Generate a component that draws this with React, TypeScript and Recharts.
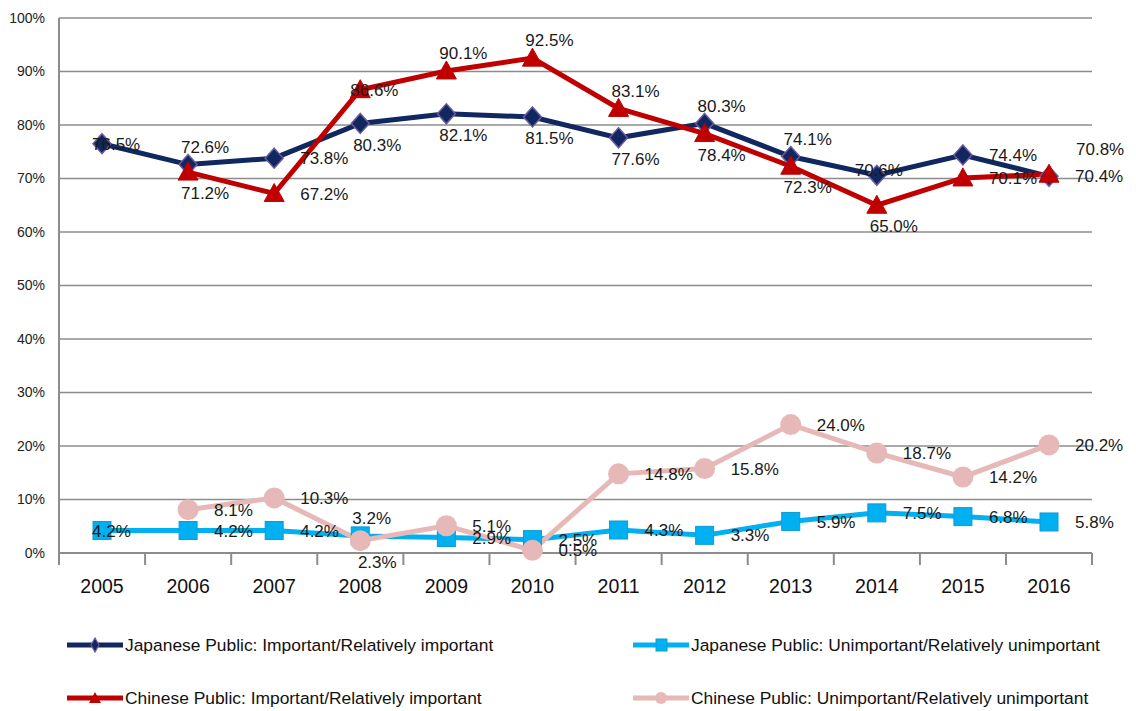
import React from 'react';
import { LineChart, Line, XAxis, YAxis, CartesianGrid, Legend, LabelList } from 'recharts';

const years = ['2005', '2006', '2007', '2008', '2009', '2010', '2011', '2012', '2013', '2014', '2015', '2016'];
const jpImportant = [76.5, 72.6, 73.8, 80.3, 82.1, 81.5, 77.6, 80.3, 74.1, 70.6, 74.4, 70.4];
const cnImportant = [null, 71.2, 67.2, 86.6, 90.1, 92.5, 83.1, 78.4, 72.3, 65.0, 70.1, 70.8];
const jpUnimportant = [4.2, 4.2, 4.2, 3.2, 2.9, 2.5, 4.3, 3.3, 5.9, 7.5, 6.8, 5.8];
const cnUnimportant = [null, 8.1, 10.3, 2.3, 5.1, 0.5, 14.8, 15.8, 24.0, 18.7, 14.2, 20.2];
const yTicks = [0, 10, 20, 30, 40, 50, 60, 70, 80, 90, 100];

const seriesNames = {
  jpImp: 'Japanese Public: Important/Relatively important',
  jpUn: 'Japanese Public: Unimportant/Relatively unimportant',
  cnImp: 'Chinese Public: Important/Relatively important',
  cnUn: 'Chinese Public: Unimportant/Relatively unimportant',
};

// where each data label sits relative to its point
const jpImpLabelPos = ['c', 't', 'r', 'b', 'b', 'b', 'b', 't', 't', 'm', 'r', 'r'];
const cnImpLabelPos = ['', 'b', 'r', 'c', 't', 't', 't', 'b', 'b', 'b', 'r', 'tr'];
const jpUnLabelPos = ['c', 'r', 'r', 'tc', 'r', 'r', 'r', 'r', 'r', 'r', 'r', 'r'];
const cnUnLabelPos = ['', 'r', 'r', 'b', 'r', 'r', 'r', 'r', 'r', 'r', 'r', 'r'];

const data = years.map((year, i) => ({
  year,
  jpImp: jpImportant[i],
  cnImp: cnImportant[i],
  jpUn: jpUnimportant[i],
  cnUn: cnUnimportant[i],
}));

const FONT = '"Liberation Sans", Arial, sans-serif';
const NAVY = '#10285f';
const RED = '#c00000';
const CYAN = '#00b0f0';
const PINK = '#e6b9b8';
const GRID = '#8c8c8c';
const BAND = 86;

const makeLabel = (pos: string[]) => (props: any) => {
  const { x, y, value, index } = props;
  if (value == null || x == null || y == null) return null;
  const p = pos[index] || 'r';
  let tx = x;
  let ty = y;
  let anchor: 'start' | 'middle' | 'end' = 'middle';
  switch (p) {
    case 'r':
      tx = x + 26; anchor = 'start'; break;
    case 'tr':
      tx = x + 27; ty = y - 25; anchor = 'start'; break;
    case 't':
      tx = x + 17; ty = y - 18; break;
    case 'b':
      tx = x + 17; ty = y + 21; break;
    case 'c':
      tx = x - 10; anchor = 'start'; break;
    case 'tc':
      tx = x - 8; ty = y - 18; anchor = 'start'; break;
    case 'm':
      tx = x + 2; ty = y - 5; break;
  }
  return (
    <text x={tx} y={ty} dy="0.36em" textAnchor={anchor} fontSize={17} fontFamily={FONT} fill="#1a1a1a">
      {Number(value).toFixed(1)}%
    </text>
  );
};

const Diamond = (props: any) => {
  const { cx, cy, index } = props;
  if (cx == null || cy == null) return <g key={`dm-${index}`} />;
  return (
    <polygon
      key={`dm-${index}`}
      points={`${cx},${cy - 10} ${cx + 9},${cy} ${cx},${cy + 10} ${cx - 9},${cy}`}
      fill={NAVY}
      stroke="#6b5b9e"
      strokeWidth={1.5}
    />
  );
};

const Triangle = (props: any) => {
  const { cx, cy, index } = props;
  if (cx == null || cy == null) return <g key={`tr-${index}`} />;
  return (
    <polygon
      key={`tr-${index}`}
      points={`${cx},${cy - 10} ${cx + 10},${cy + 8} ${cx - 10},${cy + 8}`}
      fill={RED}
      stroke={RED}
      strokeWidth={1}
    />
  );
};

const Square = (props: any) => {
  const { cx, cy, index } = props;
  if (cx == null || cy == null) return <g key={`sq-${index}`} />;
  return (
    <rect key={`sq-${index}`} x={cx - 9} y={cy - 9} width={18} height={18} fill={CYAN} stroke="#0d9bd6" strokeWidth={1} />
  );
};

const Circle = (props: any) => {
  const { cx, cy, index } = props;
  if (cx == null || cy == null) return <g key={`ci-${index}`} />;
  return <circle key={`ci-${index}`} cx={cx} cy={cy} r={10.5} fill={PINK} />;
};

const XTick = (props: any) => {
  const { x, y, payload, index } = props;
  const last = index === years.length - 1;
  return (
    <g>
      <line x1={x - BAND / 2} x2={x - BAND / 2} y1={y} y2={y + 12} stroke={GRID} strokeWidth={2} />
      {last && <line x1={x + BAND / 2} x2={x + BAND / 2} y1={y} y2={y + 12} stroke={GRID} strokeWidth={2} />}
      <text x={x} y={y + 40} textAnchor="middle" fontSize={19.5} fontFamily={FONT} fill="#111">
        {payload.value}
      </text>
    </g>
  );
};

const LegendIcon = ({ color, marker }: { color: string; marker: string }) => (
  <svg width={56} height={20} style={{ display: 'block' }}>
    <line x1={0} x2={56} y1={10} y2={10} stroke={color} strokeWidth={5} />
    {marker === 'diamond' && <polygon points="28,3 32,10 28,17 24,10" fill={NAVY} stroke="#6b5b9e" strokeWidth={1.2} />}
    {marker === 'square' && <rect x={23} y={4} width={11} height={12} fill={CYAN} stroke="#0d9bd6" />}
    {marker === 'triangle' && <polygon points="28,4 34,15 22,15" fill={RED} />}
    {marker === 'circle' && <circle cx={28} cy={10} r={6} fill={PINK} />}
  </svg>
);

const legendItems = [
  { key: 'jpImp', color: NAVY, marker: 'diamond', left: 59, top: 25 },
  { key: 'jpUn', color: CYAN, marker: 'square', left: 625, top: 25 },
  { key: 'cnImp', color: RED, marker: 'triangle', left: 59, top: 78 },
  { key: 'cnUn', color: PINK, marker: 'circle', left: 625, top: 78 },
];

const LegendBox = () => (
  <div style={{ position: 'relative', height: 0 }}>
    {legendItems.map((it) => (
      <div
        key={it.key}
        style={{ position: 'absolute', left: it.left, top: it.top - 10, display: 'flex', alignItems: 'center', whiteSpace: 'nowrap' }}
      >
        <LegendIcon color={it.color} marker={it.marker} />
        <span style={{ fontFamily: FONT, fontSize: 17.4, color: '#111', marginLeft: 2, lineHeight: '20px' }}>
          {(seriesNames as any)[it.key]}
        </span>
      </div>
    ))}
  </div>
);

export default function App() {
  return (
    <LineChart width={1120} height={703} data={data} margin={{ top: 10, right: 36, left: 0, bottom: 0 }}>
      <CartesianGrid vertical={false} stroke={GRID} strokeWidth={1.5} />
      <XAxis
        dataKey="year"
        padding={{ left: BAND / 2, right: BAND / 2 }}
        axisLine={{ stroke: GRID, strokeWidth: 2 }}
        tickLine={false}
        tickSize={0}
        tickMargin={0}
        height={158}
        interval={0}
        tick={<XTick />}
      />
      <YAxis
        domain={[0, 100]}
        ticks={yTicks}
        tickFormatter={(v: number) => `${v}%`}
        width={51}
        axisLine={{ stroke: GRID, strokeWidth: 2 }}
        tickLine={false}
        tickSize={0}
        tickMargin={14}
        tick={{ fontSize: 14, fill: '#222', fontFamily: FONT }}
      />
      <Legend
        wrapperStyle={{ top: 612, left: 0, bottom: 'auto', width: 1120, height: 0 }}
        content={() => <LegendBox />}
      />
      <Line dataKey="jpImp" name={seriesNames.jpImp} stroke={NAVY} strokeWidth={5} dot={Diamond} isAnimationActive={false}>
        <LabelList dataKey="jpImp" content={makeLabel(jpImpLabelPos)} />
      </Line>
      <Line dataKey="cnImp" name={seriesNames.cnImp} stroke={RED} strokeWidth={5} dot={Triangle} isAnimationActive={false}>
        <LabelList dataKey="cnImp" content={makeLabel(cnImpLabelPos)} />
      </Line>
      <Line dataKey="jpUn" name={seriesNames.jpUn} stroke={CYAN} strokeWidth={5} dot={Square} isAnimationActive={false}>
        <LabelList dataKey="jpUn" content={makeLabel(jpUnLabelPos)} />
      </Line>
      <Line dataKey="cnUn" name={seriesNames.cnUn} stroke={PINK} strokeWidth={5} dot={Circle} isAnimationActive={false}>
        <LabelList dataKey="cnUn" content={makeLabel(cnUnLabelPos)} />
      </Line>
    </LineChart>
  );
}
